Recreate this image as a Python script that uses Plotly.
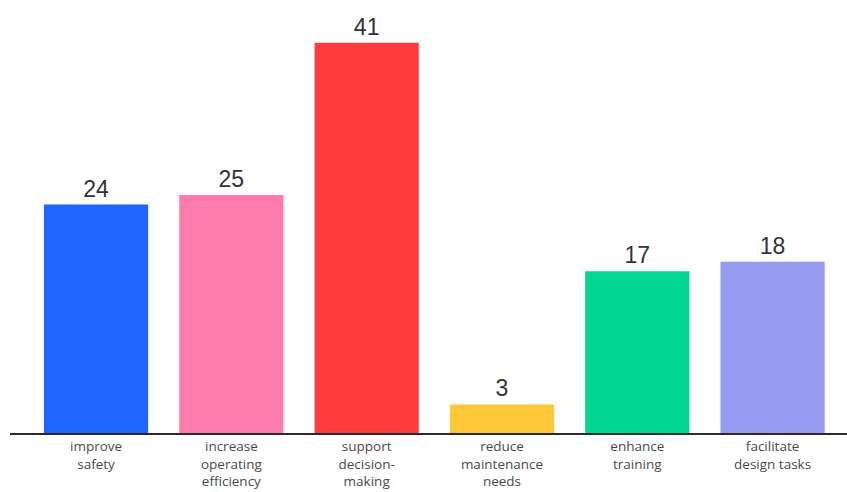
import plotly.graph_objects as go

categories = ["improve<br>safety", "increase<br>operating<br>efficiency", "support<br>decision-<br>making",
              "reduce<br>maintenance<br>needs", "enhance<br>training", "facilitate<br>design tasks"]
values = [24, 25, 41, 3, 17, 18]
colors = ["#1F66FF", "#FF7BAC", "#FF3B3B", "#FFC638", "#00D68F", "#969BEF"]

fig = go.Figure(go.Bar(
    x=list(range(len(categories))), y=values,
    marker=dict(color=colors, line=dict(width=0)),
    text=[str(v) for v in values], textposition="outside",
    textfont=dict(family="Liberation Sans, Arial", size=23, color="#333333"),
    cliponaxis=False,
))

fig.update_layout(
    width=847, height=492,
    margin=dict(l=10, r=0, t=0, b=59),
    paper_bgcolor="white", plot_bgcolor="white",
    bargap=0.23, showlegend=False,
    xaxis=dict(tickmode="array", tickvals=list(range(len(categories))), ticktext=categories,
               range=[-0.636, 5.55], showline=True, linecolor="#2b2b2b", linewidth=2,
               showgrid=False, zeroline=False, ticks="",
               tickfont=dict(family="Open Sans, sans-serif", size=13.5, color="#4a4a4a")),
    yaxis=dict(range=[0, 45.5], visible=False, showgrid=False, zeroline=False),
)

fig.write_html("out.html", config={"displayModeBar": False},
               post_script="document.body.style.margin='0';")
